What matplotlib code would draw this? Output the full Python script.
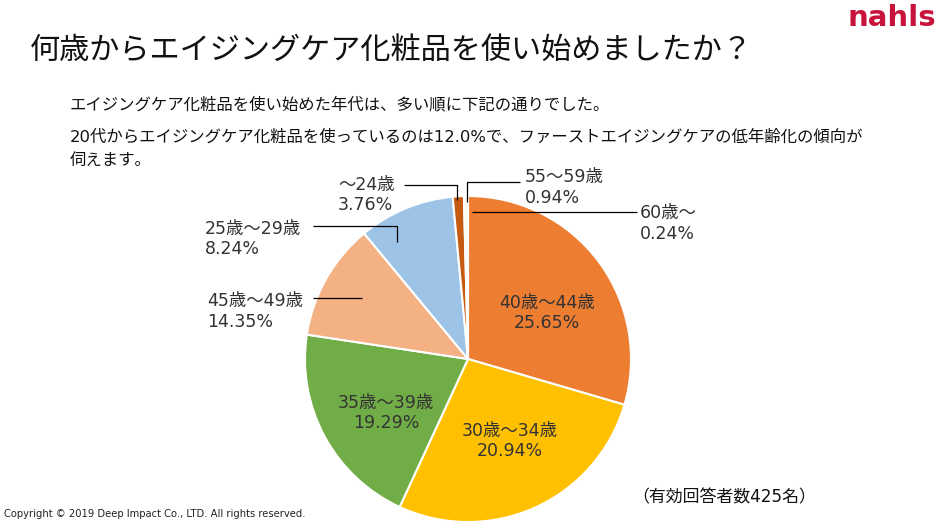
import matplotlib
matplotlib.use("Agg")
import matplotlib.pyplot as plt

JP = ["DejaVu Sans", "Noto Sans CJK JP"]

title = "何歳からエイジングケア化粧品を使い始めましたか？"
lead_1 = "エイジングケア化粧品を使い始めた年代は、多い順に下記の通りでした。"
lead_2 = "20代からエイジングケア化粧品を使っているのは12.0%で、ファーストエイジングケアの低年齢化の傾向が"
lead_3 = "伺えます。"
base_note = "（有効回答者数425名）"
copyright_txt = "Copyright © 2019 Deep Impact Co., LTD. All rights reserved."

# slices clockwise from 12 o'clock
age_groups = ["40歳〜44歳", "30歳〜34歳", "35歳〜39歳", "45歳〜49歳",
              "25歳〜29歳", "〜24歳", "55〜59歳", "60歳〜"]
pct_labels = ["25.65%", "20.94%", "19.29%", "14.35%",
              "8.24%", "3.76%", "0.94%", "0.24%"]
# wedge sizes as drawn in the picture (%)
wedge_share = [29.53, 27.36, 20.5, 11.61, 9.5, 1.1, 0.25, 0.15]
colors = ["#ED7D31", "#FFC000", "#70AD47", "#F4B183",
          "#9DC3E6", "#C55A11", "#F8CBAD", "#FBE5D6"]

W, H = 940, 528
fig = plt.figure(figsize=(W / 100, H / 100), dpi=100)


def fx(px):
    return px / W


def fy(py):
    return 1 - py / H


fig.text(fx(30), fy(50), title, fontsize=21.7, va="center",
         family="Noto Sans CJK JP", color="#111111")
fig.text(fx(936), fy(18), "nahls", fontsize=21, fontweight="heavy",
         ha="right", va="center", family="DejaVu Sans", color="#C8143C")
fig.text(fx(70), fy(105), lead_1, fontsize=11.8, va="center", family=JP, color="#111111")
fig.text(fx(70), fy(137), lead_2, fontsize=11.8, va="center", family=JP, color="#111111")
fig.text(fx(70), fy(160), lead_3, fontsize=11.8, va="center", family=JP, color="#111111")
fig.text(fx(632), fy(497), base_note, fontsize=12.2, va="center", family=JP, color="#111111")
fig.text(fx(4), fy(514), copyright_txt, fontsize=7.2, va="center",
         family="DejaVu Sans", color="#222222")

# pie: centre (468, 359) px, radius 163 px
cx, cy, R = 468, 359, 163
ax = fig.add_axes([fx(cx - R), 1 - (cy + R) / H, 2 * R / W, 2 * R / H])
ax.pie(wedge_share, colors=colors, startangle=90, counterclock=False,
       radius=1, wedgeprops=dict(edgecolor="white", linewidth=1.5))
ax.set_xlim(-1, 1)
ax.set_ylim(-1, 1)
ax.set_aspect("equal")
ax.axis("off")

lab_kw = dict(fontsize=12.5, family=JP, color="#333333", linespacing=1.2)

# labels inside the big slices
inside = {0: (0.485, 0.282), 1: (0.255, -0.503), 2: (-0.503, -0.331)}
for i, (x, y) in inside.items():
    ax.text(x, y, age_groups[i] + "\n" + pct_labels[i], ha="center", va="center",
            multialignment="center", **lab_kw)

# outside labels: text left edge / centre, leader path
outside = {
    3: ((-1.601, 0.291), [(-0.951, 0.374), (-0.650, 0.374)]),
    4: ((-1.613, 0.736), [(-0.951, 0.816), (-0.436, 0.816), (-0.436, 0.718)]),
    5: ((-0.798, 1.006), [(-0.393, 1.067), (-0.067, 1.067), (-0.067, 0.975)]),
    6: ((0.350, 1.052), [(0.319, 1.086), (-0.006, 1.086), (-0.006, 0.963)]),
    7: ((1.055, 0.831), [(1.037, 0.902), (0.025, 0.902)]),
}
for i, ((x, y), path) in outside.items():
    ax.text(x, y, age_groups[i] + "\n" + pct_labels[i], ha="left", va="center",
            multialignment="left", clip_on=False, **lab_kw)
    xs, ys = zip(*path)
    ax.plot(xs, ys, color="black", lw=0.9, clip_on=False, solid_capstyle="butt")

fig.savefig("out.png", dpi=100)
